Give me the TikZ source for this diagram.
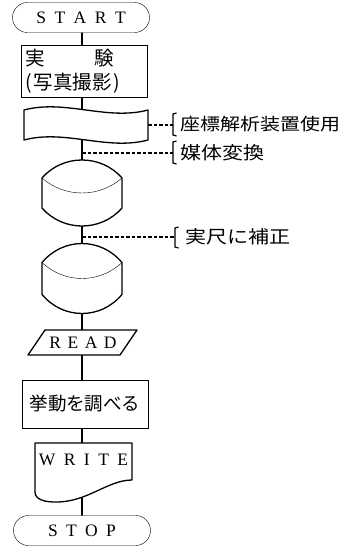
\documentclass[tikz,border=0pt]{standalone}
\usepackage{graphicx}
\usepackage{fontspec}
\setmainfont{Liberation Serif}
\newfontfamily\jp{Noto Sans CJK JP}
\usetikzlibrary{shapes.misc}
\pgfdeclarelayer{bg}\pgfdeclarelayer{fg}
\pgfsetlayers{bg,main,fg}
\begin{document}
\begin{tikzpicture}[x=1pt,y=-1pt,line width=1.3pt,
  term/.style={rounded rectangle,draw,fill=white,inner sep=0pt,minimum width=137pt,minimum height=30pt,font=\fontsize{17.5}{17.5}\selectfont},
  procbox/.style={rectangle,draw,fill=white,inner sep=0pt,minimum width=126pt},
  frame/.style={inner sep=0pt,outer sep=0pt},
  shp/.style={draw,fill=white,line width=1.3pt,line join=round},
  flow/.style={line width=1.3pt},
  dsh/.style={line width=1.1pt,dash pattern=on 3.5pt off 2pt},
  brk/.style={line width=1.2pt},
  note/.style={anchor=west,inner sep=0pt,font=\jp\fontsize{21}{21}\selectfont}
]
\useasboundingbox (0,0) rectangle (352,552);
\coordinate (sp) at (82,0);
\begin{pgfonlayer}{fg}
\node[term] (start) at (81,17.5) {S\hspace{8.5pt}T\hspace{8.5pt}A\hspace{8.5pt}R\hspace{8.5pt}T};
\node[procbox,minimum height=52pt,text width=118pt,align=left,font=\jp\fontsize{19.5}{24}\selectfont] (exp) at (84,71) {実\hspace{50pt}験\\(\hspace{2pt}写真撮影\hspace{2pt})};
\node[frame,minimum width=124pt,minimum height=30pt] (tape) at (86,125) {};
\node[frame,minimum width=80pt,minimum height=66pt] (d1) at (82,193) {};
\node[frame,minimum width=80pt,minimum height=70pt] (d2) at (82,278.5) {};
\node[frame,font=\fontsize{17.5}{17.5}\selectfont] (read) at (83,342.5) {R\hspace{6.5pt}E\hspace{6.5pt}A\hspace{6.5pt}D};
\node[procbox,minimum height=48pt,font=\jp\fontsize{18.5}{18.5}\selectfont] (study) at (85,404) {挙動を調べる};
\node[frame,font=\fontsize{17.5}{17.5}\selectfont] (write) at (83.5,460) {W\hspace{8.5pt}R\hspace{8.5pt}I\hspace{8.5pt}T\hspace{8.5pt}E};
\node[term] (stop) at (82,530.5) {S\hspace{8.3pt}T\hspace{8.3pt}O\hspace{8.3pt}P};
\node[note,font=\jp\fontsize{20}{20}\selectfont] (n1) at (180,124) {\scalebox{1}[0.85]{座標解析装置使用}};
\node[note] (n2) at (180,153) {\scalebox{1}[0.85]{媒体変換}};
\node[note] (n3) at (185,237) {\scalebox{1}[0.85]{実尺に補正}};
\end{pgfonlayer}
% shapes
\begin{scope}[shift={(tape.center)}]
\draw[shp] (-62,-15) .. controls (-21,-26) and (21,-4) .. (62,-15) -- (62,15) .. controls (21,26) and (-21,4) .. (-62,15) -- cycle;
\end{scope}
\begin{scope}[shift={(d1.center)}]
\draw[shp] (-40,-15) .. controls (-19,-39) and (19,-39) .. (40,-15) -- (40,15) .. controls (19,39) and (-19,39) .. (-40,15) -- cycle;
\draw (-40,-15) .. controls (-17,5) and (17,5) .. (40,-15);
\end{scope}
\begin{scope}[shift={(d2.center)},yscale=1.06]
\draw[shp] (-40,-15) .. controls (-19,-39) and (19,-39) .. (40,-15) -- (40,15) .. controls (19,39) and (-19,39) .. (-40,15) -- cycle;
\draw (-40,-15) .. controls (-17,5) and (17,5) .. (40,-15);
\end{scope}
\begin{scope}[shift={(82.5,342.5)}]
\draw[shp] (-37.5,-12.5) -- (54.5,-12.5) -- (37.5,12.5) -- (-54.5,12.5) -- cycle;
\end{scope}
\begin{scope}[shift={(83.5,462)}]
\draw[shp] (-48.5,-19) -- (48.5,-19) -- (48.5,18) .. controls (25,18) and (5,39) .. (-25,40) .. controls (-40,40.5) and (-48.5,37) .. (-48.5,30) -- cycle;
\end{scope}
% brackets
\coordinate (b1) at (173,125);
\coordinate (b2) at (173,153);
\coordinate (b3) at (175,237);
\draw[brk] (176.5,113) -- (173,114) -- (173,135) -- (176.5,136);
\draw[brk] (176.5,141) -- (173,142) -- (173,163) -- (176.5,164);
\draw[brk] (178.5,227) -- (175,228) -- (175,247) -- (178.5,248);
\begin{pgfonlayer}{bg}
\draw[flow] (sp |- start.center) -- (sp |- exp.center);
\draw[flow] (sp |- exp.center) -- (sp |- tape.center);
\draw[flow] (sp |- tape.center) -- (sp |- d1.center);
\draw[flow] (sp |- d1.center) -- (sp |- d2.center);
\draw[flow] (sp |- d2.center) -- (sp |- read.center);
\draw[flow] (sp |- read.center) -- (sp |- study.center);
\draw[flow] (sp |- study.center) -- (sp |- write.center);
\draw[flow] (sp |- write.center) -- (sp |- stop.center);
\draw[dsh] (tape.east) -- (b1);
\draw[dsh] (sp |- b2) -- (b2);
\draw[dsh] (sp |- b3) -- (b3);
\end{pgfonlayer}
\end{tikzpicture}
\end{document}
